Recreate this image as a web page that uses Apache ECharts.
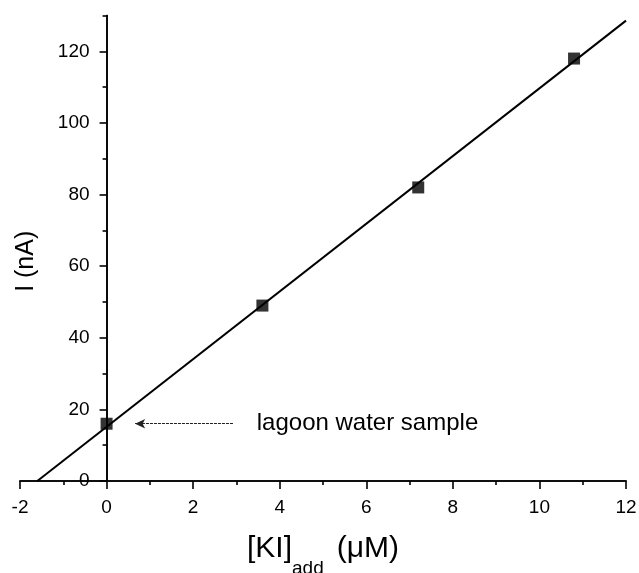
<!DOCTYPE html>
<html>
<head>
<meta charset="utf-8">
<script src="https://cdn.jsdelivr.net/npm/echarts@6/dist/echarts.min.js"></script>
<style>
html,body{margin:0;padding:0;background:#fff;}
#chart{width:639px;height:573px;}
</style>
</head>
<body>
<div id="chart"></div>
<script>
// ---- data ----
var kiAdded = [0, 3.6, 7.2, 10.8];          // [KI]add (µM)
var current = [16, 49, 82, 118];            // I (nA)
var fitX = [-1.6, 12];                      // regression line end points (x)
var fitY = [0, 128.6];                      // regression line end points (y)
var xMajorTicks = [-2, 0, 2, 4, 6, 8, 10, 12];
var xMinorTicks = [-1, 1, 3, 5, 7, 9, 11];
var yMajorTicks = [0, 20, 40, 60, 80, 100, 120];
var yMinorTicks = [10, 30, 50, 70, 90, 110, 130];
var annotationText = 'lagoon water sample';

var FONT = '"Liberation Sans", Arial, sans-serif';
var INK = '#000';

var X_MIN = -2, X_MAX = 12;
var GRID = { left: 20, right: 13, top: 15.6, bottom: 92 };
var CHART_W = 639;
// the y axis sits at x = 0: shift it into the grid by the pixel distance of x=0 from x=min
var yAxisShift = -(0 - X_MIN) / (X_MAX - X_MIN) * (CHART_W - GRID.left - GRID.right);

var points = kiAdded.map(function (x, i) { return [x, current[i]]; });
var fitLine = fitX.map(function (x, i) { return [x, fitY[i]]; });

function baseX(extra) {
  return Object.assign({
    type: 'value', min: X_MIN, max: X_MAX, interval: 1, position: 'bottom',
    axisLine: { show: true, onZero: true, lineStyle: { color: INK, width: 1.6 } },
    splitLine: { show: false }
  }, extra);
}
function baseY(extra) {
  return Object.assign({
    type: 'value', min: 0, max: 130, interval: 10, position: 'left',
    offset: yAxisShift,
    axisLine: { show: true, onZero: false, lineStyle: { color: INK, width: 1.6 } },
    splitLine: { show: false }
  }, extra);
}

var option = {
  animation: false,
  backgroundColor: '#fff',
  grid: { left: GRID.left, right: GRID.right, top: GRID.top, bottom: GRID.bottom, containLabel: false, outerBoundsMode: 'none' },
  xAxis: [
    baseX({
      name: '{m|[KI]}{s|add}{p|(μM)}',
      nameLocation: 'middle',
      nameGap: 53,
      nameTextStyle: {
        fontFamily: FONT, color: INK,
        rich: {
          m: { fontFamily: FONT, fontSize: 30, lineHeight: 30, verticalAlign: 'top', color: INK },
          s: { fontFamily: FONT, fontSize: 19, lineHeight: 44, verticalAlign: 'bottom', color: INK },
          p: { fontFamily: FONT, fontSize: 30, lineHeight: 30, verticalAlign: 'top', color: INK, padding: [0, 0, 0, 13] }
        }
      },
      axisTick: { show: true, customValues: xMajorTicks, length: 8, lineStyle: { color: INK, width: 1.6 } },
      axisLabel: { show: true, customValues: xMajorTicks, margin: 17, fontSize: 19, fontFamily: FONT, color: INK }
    }),
    baseX({
      axisTick: { show: true, customValues: xMinorTicks, length: 4, lineStyle: { color: INK, width: 1.6 } },
      axisLabel: { show: false }
    })
  ],
  yAxis: [
    baseY({
      name: 'I (nA)',
      nameLocation: 'middle',
      nameGap: 68,
      nameMoveOverlap: false,
      nameTextStyle: { fontFamily: FONT, fontSize: 25, color: INK, padding: [0, 26, 0, 0] },
      axisTick: { show: true, customValues: yMajorTicks, length: 7, lineStyle: { color: INK, width: 1.6 } },
      axisLabel: { show: true, customValues: yMajorTicks, margin: 17, fontSize: 19, fontFamily: FONT, color: INK }
    }),
    baseY({
      axisTick: { show: true, customValues: yMinorTicks, length: 4, lineStyle: { color: INK, width: 1.6 } },
      axisLabel: { show: false }
    })
  ],
  series: [
    {
      type: 'line',
      xAxisIndex: 0, yAxisIndex: 0,
      data: fitLine,
      showSymbol: false,
      symbol: 'none',
      lineStyle: { color: INK, width: 2 },
      z: 2,
      silent: true,
      markLine: {
        silent: true,
        symbol: ['none', 'arrow'],
        symbolSize: [7, 10],
        label: { show: false },
        lineStyle: { color: '#222', width: 1, type: [3, 1] },
        data: [[{ coord: [2.92, current[0]] }, { coord: [0.66, current[0]] }]]
      },
      markPoint: {
        silent: true,
        symbol: 'circle',
        symbolSize: 0,
        data: [{ coord: [3.47, current[0]], value: annotationText }],
        label: {
          show: true, position: 'right', distance: 0,
          formatter: annotationText,
          fontFamily: FONT, fontSize: 24, color: INK
        }
      }
    },
    {
      type: 'scatter',
      xAxisIndex: 0, yAxisIndex: 0,
      data: points,
      symbol: 'rect',
      symbolSize: 12,
      itemStyle: { color: INK },
      z: 3
    }
  ]
};

var chart = echarts.init(document.getElementById('chart'), null, { renderer: 'canvas' });
chart.setOption(option);
</script>
</body>
</html>
